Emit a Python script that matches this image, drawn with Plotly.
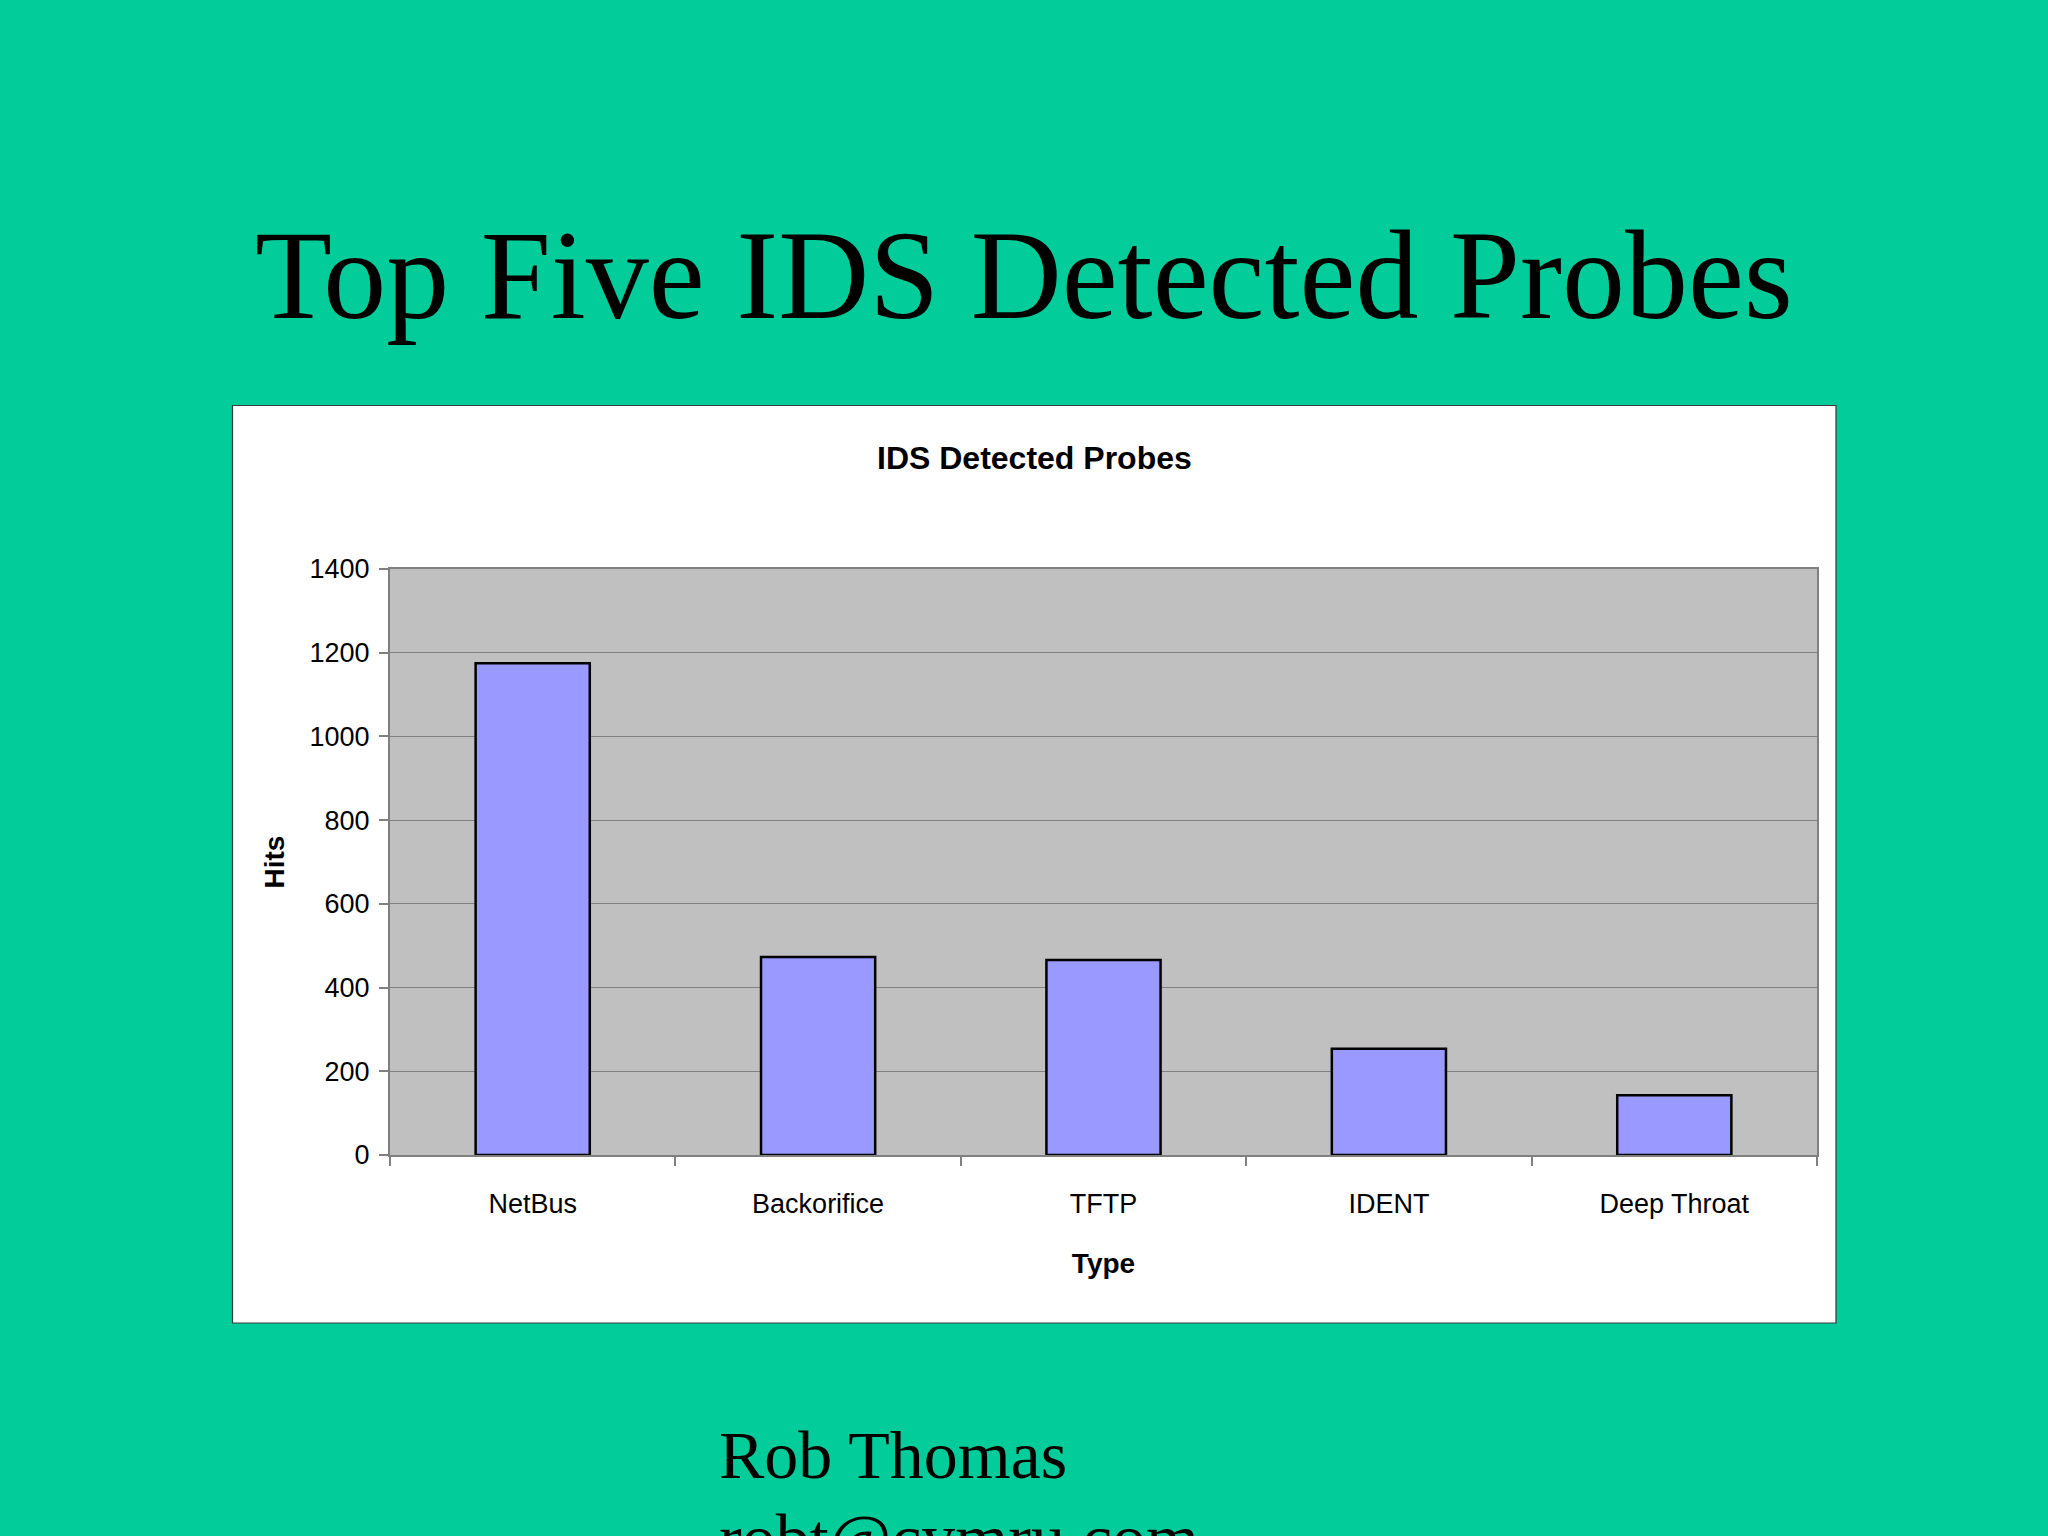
import plotly.graph_objects as go

categories = ["NetBus", "Backorifice", "TFTP", "IDENT", "Deep Throat"]
hits = [1175, 473, 466, 254, 143]
y_ticks = [0, 200, 400, 600, 800, 1000, 1200, 1400]

W, H = 2048, 1536
PL, PR, PT, PB = 390, 1817, 569, 1155  # plot area in pixels


def X(px):
    return (px - PL) / (PR - PL)


def Y(py):
    return (PB - py) / (PB - PT)


GREEN = "#02CC99"
SANS = "Liberation Sans, Arial, sans-serif"
SERIF = "Liberation Serif, Times New Roman, serif"

fig = go.Figure(
    go.Bar(
        x=categories,
        y=hits,
        marker=dict(color="#9999FF", line=dict(color="#000000", width=2.5)),
        hoverinfo="x+y",
    )
)

fig.update_layout(
    width=W,
    height=H,
    paper_bgcolor=GREEN,
    plot_bgcolor="rgba(0,0,0,0)",
    margin=dict(l=PL, r=W - PR, t=PT, b=H - PB, pad=0),
    bargap=0.6,
    showlegend=False,
    shapes=[
        # white chart area
        dict(type="rect", xref="paper", yref="paper", layer="below",
             x0=X(232.5), x1=X(1836), y0=Y(1323), y1=Y(405.5),
             fillcolor="#FFFFFF", line=dict(color="#3a3a3a", width=1.2)),
        # gray plot area
        dict(type="rect", xref="paper", yref="paper", layer="below",
             x0=0, x1=1, y0=0, y1=1,
             fillcolor="#C0C0C0", line=dict(width=0)),
    ],
    annotations=[
        dict(text="Top Five IDS Detected Probes", xref="paper", yref="paper",
             x=X(1024), y=Y(275), xanchor="center", yanchor="middle",
             showarrow=False, font=dict(family=SERIF, size=126, color="#000000")),
        dict(text="<b>IDS Detected Probes</b>", xref="paper", yref="paper",
             x=X(1034), y=Y(458), xanchor="center", yanchor="middle",
             showarrow=False, font=dict(family=SANS, size=32, color="#000000")),
        dict(text="Rob Thomas", xref="paper", yref="paper",
             x=X(717), y=Y(1455), xanchor="left", yanchor="middle",
             showarrow=False, font=dict(family=SERIF, size=68, color="#000000")),
        dict(text="robt@cymru.com", xref="paper", yref="paper",
             x=X(717), y=Y(1538), xanchor="left", yanchor="middle",
             showarrow=False, font=dict(family=SERIF, size=68, color="#000000")),
    ],
)

fig.update_xaxes(
    type="category",
    showline=True, linecolor="#808080", linewidth=2, mirror=True,
    ticks="outside", tickson="boundaries", ticklen=9, tickcolor="#808080", tickwidth=1.5,
    tickfont=dict(family=SANS, size=27, color="#000000"),
    ticklabelstandoff=24,
    showgrid=False,
    title=dict(text="<b>Type</b>", font=dict(family=SANS, size=28, color="#000000"), standoff=35),
)

fig.update_yaxes(
    range=[0, 1400],
    tickvals=y_ticks,
    ticktext=[str(v) for v in y_ticks],
    showline=True, linecolor="#808080", linewidth=2, mirror=True,
    ticks="outside", ticklen=9, tickcolor="#808080", tickwidth=1.5,
    tickfont=dict(family=SANS, size=27, color="#000000"),
    ticklabelstandoff=4,
    showgrid=True, gridcolor="#808080", gridwidth=1.2,
    zeroline=False,
    title=dict(text="<b>Hits</b>", font=dict(family=SANS, size=28, color="#000000"), standoff=17),
)

fig.write_html("out.html", config={"displayModeBar": False},
               post_script="document.body.style.margin='0';")
